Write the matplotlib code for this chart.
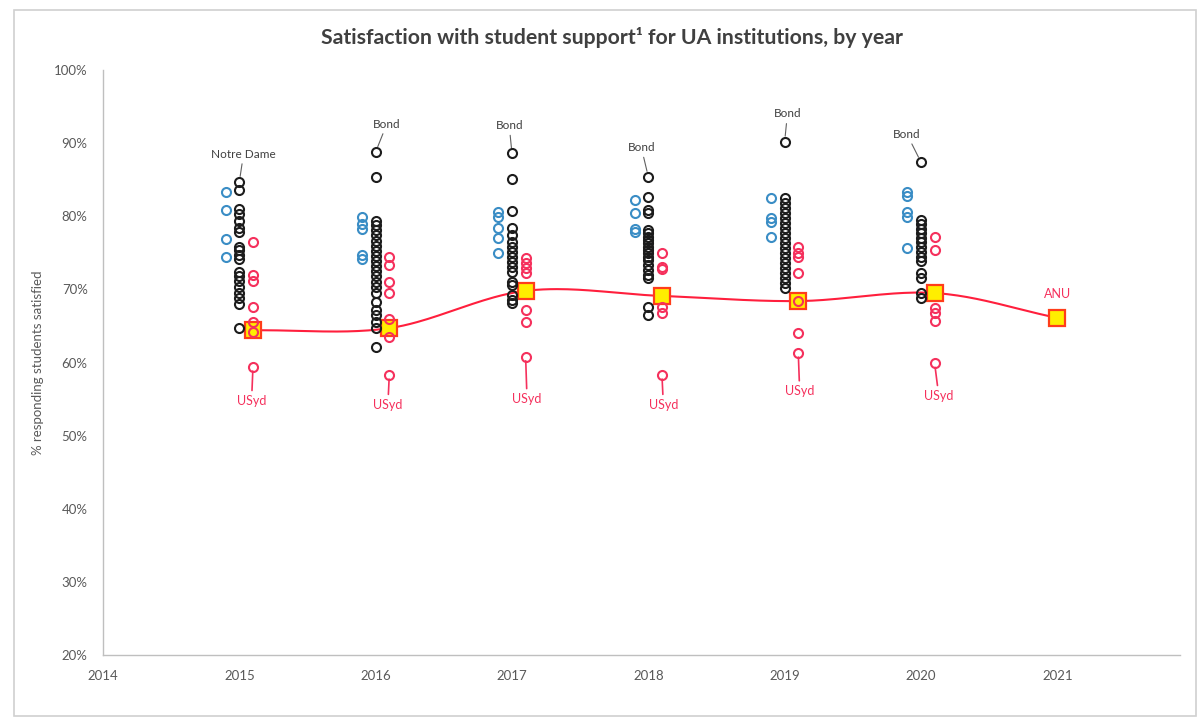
import numpy as np
import matplotlib
matplotlib.use("Agg")
import matplotlib.pyplot as plt
from matplotlib.patches import Rectangle

plt.rcParams['font.family'] = ['Lato', 'DejaVu Sans']

# ---- data (% of responding students satisfied) ----
years = [2015, 2016, 2017, 2018, 2019, 2020]

# other universities (black)
other_unis = [
    [84.7, 83.6, 81.0, 80.3, 79.3, 78.4, 77.8, 75.8, 75.4, 74.7, 74.2, 72.4,
     71.8, 71.1, 70.3, 69.5, 68.8, 68.0, 64.7],
    [88.8, 85.4, 79.4, 78.8, 78.1, 77.4, 76.6, 75.9, 75.3, 74.6, 73.9, 73.2,
     72.5, 71.8, 71.0, 70.3, 69.5, 68.3, 67.2, 66.5, 65.6, 64.7, 62.1],
    [88.6, 85.1, 80.7, 78.4, 77.4, 76.5, 75.8, 75.1, 74.4, 73.7, 73.1, 72.4,
     71.0, 70.6, 69.2, 68.5, 68.1],
    [85.4, 82.6, 80.9, 80.4, 78.1, 77.7, 77.2, 76.8, 76.3, 75.8, 75.4, 75.0,
     74.4, 74.0, 73.3, 72.6, 72.0, 71.6, 67.6, 66.5],
    [90.2, 82.5, 81.8, 81.1, 80.4, 79.8, 79.1, 78.4, 77.7, 77.0, 76.3, 75.7,
     75.0, 74.3, 73.6, 72.9, 72.2, 71.6, 70.9, 70.2],
    [87.4, 79.5, 78.9, 78.3, 77.7, 77.0, 76.5, 75.8, 75.1, 74.4, 73.9, 72.2,
     71.6, 69.5, 68.8],
]

# comparison group (blue)
group_unis = [
    [83.3, 80.9, 76.9, 74.4],
    [79.9, 79.0, 78.3, 74.7, 74.2],
    [80.6, 79.9, 78.4, 77.0, 75.0],
    [82.2, 80.4, 78.3, 77.8],
    [82.5, 79.8, 79.2, 77.2],
    [83.3, 82.8, 80.6, 79.9, 75.7],
]

# UA institutions (red)
ua_unis = [
    [76.5, 72.0, 71.1, 67.6, 65.5, 64.2, 59.4],
    [74.4, 73.3, 71.0, 69.5, 65.9, 63.5, 58.3],
    [74.3, 73.6, 72.9, 72.2, 67.2, 65.5, 60.8],
    [75.0, 73.1, 72.8, 67.6, 66.8, 58.3],
    [75.8, 75.0, 74.4, 72.2, 68.4, 64.0, 61.3],
    [77.2, 75.4, 67.5, 66.8, 65.7, 59.9],
]

# UA average, 2015-2020, and ANU for 2021
avg_years = [2015, 2016, 2017, 2018, 2019, 2020, 2021]
ua_average = [64.4, 64.7, 69.8, 69.1, 68.4, 69.5, 66.1]

top_names = ['Notre Dame', 'Bond', 'Bond', 'Bond', 'Bond', 'Bond']
bottom_name = 'USyd'
last_name = 'ANU'

title = 'Satisfaction with student support\u00b9 for UA institutions, by year'
y_label = '% responding students satisfied'
x_ticks = [2014, 2015, 2016, 2017, 2018, 2019, 2020, 2021]
y_ticks = [20, 30, 40, 50, 60, 70, 80, 90, 100]

# ---- styling ----
BLACK = '#1c1c1c'
BLUE = '#3a8dc5'
RED = '#f5305c'
LINE_RED = '#ff1f3d'
SQ_FACE = '#ffee00'
SQ_EDGE = '#ff3d1a'
GREY_TXT = '#595959'

W, H, DPI = 1200, 724, 100
fig = plt.figure(figsize=(W / DPI, H / DPI), dpi=DPI)
fig.patch.set_facecolor('white')

# outer chart frame
fig.patches.append(Rectangle((14 / W, 1 - 716 / H), (1196 - 14) / W, (716 - 10) / H,
                             transform=fig.transFigure, fill=False,
                             edgecolor='#d0d0d0', linewidth=1.2))

ax = fig.add_axes([103 / W, 1 - 655 / H, (1180 - 103) / W, (655 - 70) / H])
ax.set_xlim(2014, 2021.9)
ax.set_ylim(20, 100)

off = 0.1  # horizontal jitter for the side columns


def catmull_rom(xs, ys, n=40):
    px = np.r_[2 * xs[0] - xs[1], xs, 2 * xs[-1] - xs[-2]]
    py = np.r_[2 * ys[0] - ys[1], ys, 2 * ys[-1] - ys[-2]]
    out_x, out_y = [], []
    t = np.linspace(0, 1, n)
    for i in range(1, len(px) - 2):
        p0, p1, p2, p3 = (np.array([px[j], py[j]]) for j in range(i - 1, i + 3))
        seg = 0.5 * ((2 * p1)[:, None] + (-p0 + p2)[:, None] * t
                     + (2 * p0 - 5 * p1 + 4 * p2 - p3)[:, None] * t ** 2
                     + (-p0 + 3 * p1 - 3 * p2 + p3)[:, None] * t ** 3)
        out_x.extend(seg[0])
        out_y.extend(seg[1])
    return np.array(out_x), np.array(out_y)


sq_x = np.array([y + off if y in years else y for y in avg_years], dtype=float)
sq_y = np.array(ua_average, dtype=float)
cx, cy = catmull_rom(sq_x, sq_y)
ax.plot(cx, cy, color=LINE_RED, lw=1.5, zorder=2)
ax.plot(sq_x, sq_y, ls='none', marker='s', ms=11, mfc=SQ_FACE, mec=SQ_EDGE,
        mew=1.6, zorder=3)

ring = dict(ls='none', marker='o', ms=6.5, mfc='none', mew=1.5, zorder=4)
for yr, blk, blu, red in zip(years, other_unis, group_unis, ua_unis):
    ax.plot([yr] * len(blk), blk, mec=BLACK, **ring)
    ax.plot([yr - off] * len(blu), blu, mec=BLUE, **ring)
    ax.plot([yr + off] * len(red), red, mec=RED, **ring)

# name labels with leader lines
top_offsets = [(3, 16), (8, 16), (-2, 16), (-5, 17), (2, 16), (-10, 16)]
for yr, blk, name, (dx, dy) in zip(years, other_unis, top_names, top_offsets):
    ax.annotate(name, xy=(yr, max(blk)), xytext=(dx, dy), textcoords='offset points',
                ha='center', va='bottom', fontsize=8.5, color='#404040',
                arrowprops=dict(arrowstyle='-', color='#606060', lw=0.8,
                                shrinkA=1, shrinkB=4))

bot_dy = [-20, -17, -26, -17, -23, -19]
bot_dx = [-1, -1, 1, 1, 1, 3]
for yr, red, dx, dy in zip(years, ua_unis, bot_dx, bot_dy):
    ax.annotate(bottom_name, xy=(yr + off, min(red)), xytext=(dx, dy),
                textcoords='offset points', ha='center', va='top', fontsize=9,
                color=RED,
                arrowprops=dict(arrowstyle='-', color=RED, lw=1.2,
                                shrinkA=1, shrinkB=3))

ax.annotate(last_name, xy=(sq_x[-1], sq_y[-1]), xytext=(0, 13),
            textcoords='offset points', ha='center', va='bottom', fontsize=9,
            color=RED)

# axes styling
for s in ['top', 'right']:
    ax.spines[s].set_visible(False)
for s in ['left', 'bottom']:
    ax.spines[s].set_color('#bfbfbf')
    ax.spines[s].set_linewidth(1.0)
ax.set_xticks(x_ticks)
ax.set_xticklabels([str(v) for v in x_ticks])
ax.set_yticks(y_ticks)
ax.set_yticklabels([f'{v}%' for v in y_ticks])
ax.tick_params(axis='both', length=0, labelsize=9.5, colors=GREY_TXT)
ax.tick_params(axis='y', pad=11)
ax.tick_params(axis='x', pad=11)
ax.set_ylabel(y_label, fontsize=9.5, color=GREY_TXT, labelpad=7)

fig.text(612 / W, 1 - 38 / H, title, ha='center', va='center', fontsize=15.3,
         fontweight='bold', color='#404040')

fig.savefig('out.png', dpi=DPI, facecolor='white')
